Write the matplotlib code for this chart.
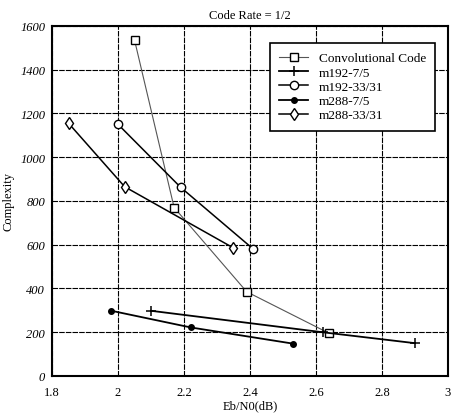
import matplotlib
matplotlib.use("Agg")
import matplotlib.pyplot as plt

conv_x = [2.05, 2.17, 2.39, 2.64]
conv_y = [1535, 770, 385, 195]
m192_75_x = [2.10, 2.62, 2.90]
m192_75_y = [298, 200, 150]
m192_33_x = [2.00, 2.19, 2.41]
m192_33_y = [1150, 862, 580]
m288_75_x = [1.98, 2.22, 2.53]
m288_75_y = [298, 222, 148]
m288_33_x = [1.85, 2.02, 2.35]
m288_33_y = [1155, 865, 585]

xticks = [1.8, 2, 2.2, 2.4, 2.6, 2.8, 3]
xticklabels = ["1.8", "2", "2.2", "2.4", "2.6", "2.8", "3"]
yticks = [0, 200, 400, 600, 800, 1000, 1200, 1400, 1600]

plt.rcParams['font.family'] = ['Liberation Serif', 'DejaVu Serif']

fig = plt.figure(figsize=(4.57, 4.14), dpi=100)
ax = fig.add_axes([0.114, 0.0894, 0.866, 0.8456])

ax.plot(conv_x, conv_y, color='#555555', lw=0.8, marker='s', ms=6, mfc='white',
        mec='black', mew=1.0, label='Convolutional Code')
ax.plot(m192_75_x, m192_75_y, color='black', lw=1.3, marker='+', ms=7, mew=1.1,
        label='m192-7/5')
ax.plot(m192_33_x, m192_33_y, color='black', lw=1.1, marker='o', ms=6, mfc='white',
        mew=1.0, label='m192-33/31')
ax.plot(m288_75_x, m288_75_y, color='black', lw=1.3, marker='o', ms=4,
        label='m288-7/5')
ax.plot(m288_33_x, m288_33_y, color='black', lw=1.1, marker='d', ms=6, mfc='white',
        mew=1.0, label='m288-33/31')

ax.set_xlim(1.8, 3)
ax.set_ylim(0, 1600)
ax.set_xticks(xticks)
ax.set_xticklabels(xticklabels)
ax.set_yticks(yticks)
ax.tick_params(direction='in', length=0, labelsize=9)
ax.tick_params(axis='x', pad=7)
ax.tick_params(axis='y', pad=5)
for lab in ax.get_yticklabels():
    lab.set_fontstyle('italic')
ax.grid(True, color='black', lw=0.8, linestyle=(0, (5, 1)))
for s in ax.spines.values():
    s.set_linewidth(1.5)

ax.set_title('Code Rate = 1/2', fontsize=9, pad=6)
ax.set_xlabel('Eb/N0(dB)', fontsize=9, labelpad=1)
ax.set_ylabel('Complexity', fontsize=9, labelpad=4)

leg = ax.legend(loc='upper right', bbox_to_anchor=(0.985, 0.97), fontsize=9.5,
                frameon=True, fancybox=False, edgecolor='black', framealpha=1,
                handlelength=2.2, borderpad=0.7, labelspacing=0.15)
leg.get_frame().set_linewidth(1.2)

fig.savefig('out.png', dpi=100)
